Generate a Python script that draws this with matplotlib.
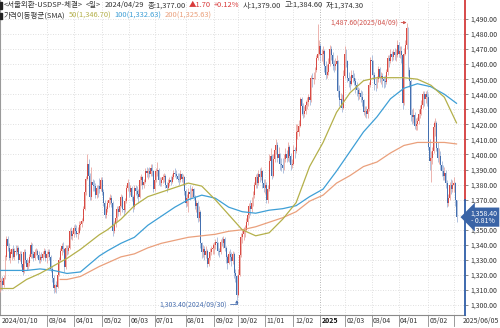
import numpy as np
import pandas as pd
import matplotlib
matplotlib.use('agg')
import matplotlib.pyplot as plt
from matplotlib import transforms
from matplotlib.patches import Rectangle

plt.rcParams['font.family'] = ['Noto Sans CJK KR', 'DejaVu Sans']

# Seoul FX market trading calendar
holidays = ['2024-02-09', '2024-02-12', '2024-03-01', '2024-04-10', '2024-05-01', '2024-05-06',
            '2024-05-15', '2024-06-06', '2024-08-15', '2024-09-16', '2024-09-17', '2024-09-18',
            '2024-10-01', '2024-10-03', '2024-10-09', '2024-12-25', '2024-12-31', '2025-01-01',
            '2025-01-27', '2025-01-28', '2025-01-29', '2025-01-30', '2025-03-03', '2025-05-01',
            '2025-05-05', '2025-05-06', '2025-06-03']
dates = pd.bdate_range('2024-01-10', '2025-06-05', freq='C', holidays=holidays)

# daily USD/KRW candles, one line per month
opens = [
    1310, 1315, 1316, 1313, 1318, 1332, 1344, 1338, 1331, 1334, 1337, 1332, 1336, 1335, 1338, 1330,
    1334, 1327, 1322, 1335, 1330, 1325, 1328, 1332, 1340, 1334, 1331, 1335, 1336, 1333, 1330, 1332, 1331, 1334, 1336,
    1331, 1334, 1335, 1332, 1324, 1318, 1311, 1313, 1312, 1320, 1330, 1336, 1339, 1337, 1325, 1338, 1336, 1338, 1349, 1346,
    1347, 1351, 1349, 1347, 1348, 1353, 1354, 1356, 1364, 1375, 1384, 1394, 1386, 1372, 1382, 1380, 1379, 1373, 1378, 1379, 1377,
    1383, 1375, 1368, 1360, 1364, 1368, 1370, 1371, 1368, 1349, 1354, 1358, 1364, 1362, 1366, 1372, 1364, 1363, 1369, 1378,
    1381, 1375, 1378, 1372, 1365, 1378, 1376, 1374, 1372, 1383, 1385, 1380, 1382, 1389, 1388, 1389, 1387, 1391, 1389,
    1377, 1383, 1389, 1390, 1383, 1381, 1383, 1385, 1386, 1380, 1378, 1381, 1383, 1382, 1385, 1388, 1387, 1386, 1384, 1383, 1387, 1384, 1385,
    1376, 1368, 1371, 1375, 1374, 1376, 1377, 1372, 1366, 1368, 1358, 1362, 1341, 1335, 1337, 1333, 1336, 1327, 1331, 1335, 1337,
    1338, 1340, 1342, 1341, 1336, 1335, 1342, 1341, 1344, 1338, 1332, 1328, 1334, 1332, 1329, 1334, 1321, 1319,
    1307, 1320, 1333, 1345, 1347, 1349, 1350, 1355, 1360, 1366, 1364, 1368, 1373, 1380, 1385, 1381, 1387, 1385, 1389, 1381,
    1378, 1380, 1370, 1377, 1396, 1399, 1386, 1397, 1403, 1406, 1398, 1400, 1394, 1393, 1391, 1397, 1400, 1398, 1405, 1399, 1393,
    1394, 1403, 1402, 1415, 1415, 1419, 1437, 1432, 1427, 1429, 1433, 1435, 1438, 1436, 1451, 1450, 1451, 1456, 1464, 1467,
    1472, 1466, 1467, 1469, 1459, 1453, 1455, 1460, 1470, 1466, 1460, 1459, 1460, 1462, 1442, 1436, 1437, 1431,
    1452, 1467, 1462, 1451, 1449, 1447, 1453, 1451, 1449, 1446, 1443, 1440, 1441, 1438, 1436, 1428, 1429, 1427, 1430, 1446,
    1463, 1462, 1453, 1447, 1446, 1450, 1457, 1451, 1452, 1450, 1449, 1448, 1455, 1464, 1462, 1467, 1465, 1468, 1466, 1466,
    1473, 1467, 1469, 1466, 1434, 1467, 1473, 1484, 1456, 1449, 1426, 1425, 1426, 1419, 1420, 1422, 1427, 1430, 1433, 1440, 1437, 1440,
    1438, 1405, 1396, 1398, 1402, 1418, 1421, 1404, 1398, 1399, 1393, 1389, 1386, 1388, 1381, 1368, 1371, 1380, 1377,
    1380, 1381, 1369.5,
]
highs = [
    1318, 1318, 1319, 1320, 1333, 1346, 1346, 1341, 1337, 1338, 1340, 1338, 1340, 1340, 1339, 1336,
    1336, 1329, 1337, 1337, 1331, 1330, 1334, 1342, 1341, 1336, 1337, 1338, 1337, 1336, 1334, 1335, 1336, 1338, 1337,
    1336, 1337, 1337, 1333, 1326, 1320, 1314, 1316, 1322, 1332, 1338, 1341, 1342, 1338, 1340, 1340, 1340, 1351, 1352, 1350,
    1353, 1354, 1353, 1352, 1356, 1356, 1358, 1366, 1376, 1386, 1400, 1397, 1388, 1392, 1384, 1383, 1381, 1380, 1380, 1384.6, 1385,
    1385, 1377, 1370, 1366, 1370, 1372, 1374, 1373, 1369, 1356, 1360, 1366, 1366, 1368, 1374, 1373, 1367, 1371, 1380, 1384,
    1382, 1380, 1379, 1373, 1380, 1380, 1379, 1377, 1386, 1387, 1386, 1384, 1391, 1392, 1391, 1392, 1394, 1394, 1390,
    1386, 1391, 1395, 1391, 1385, 1385, 1387, 1388, 1387, 1382, 1384, 1385, 1386, 1387, 1390, 1391, 1390, 1388, 1388, 1390, 1388, 1387, 1386,
    1377, 1374, 1378, 1380, 1378, 1379, 1378, 1373, 1370, 1369, 1366, 1363, 1342, 1340, 1339, 1339, 1337, 1333, 1338, 1339, 1341,
    1342, 1344, 1345, 1342, 1338, 1344, 1345, 1346, 1345, 1339, 1333, 1336, 1337, 1335, 1336, 1335, 1324, 1320,
    1324, 1336, 1348, 1350, 1352, 1353, 1358, 1362, 1368, 1370, 1372, 1376, 1382, 1387, 1388, 1390, 1391, 1392, 1390, 1384,
    1384, 1382, 1380, 1400, 1404, 1400, 1400, 1406, 1410, 1408, 1405, 1401, 1398, 1398, 1400, 1404, 1403, 1408, 1406, 1401, 1397,
    1406, 1405, 1420, 1420, 1423, 1438, 1438, 1434, 1432, 1436, 1438, 1440, 1440, 1453, 1454, 1455, 1458, 1466, 1486.7, 1476,
    1474, 1470, 1472, 1470, 1462, 1460, 1464, 1473, 1472, 1468, 1463, 1464, 1466, 1463, 1446, 1441, 1440, 1456,
    1472, 1470, 1463, 1455, 1452, 1456, 1456, 1454, 1451, 1448, 1445, 1444, 1443, 1442, 1437, 1432, 1432, 1432, 1448, 1465,
    1466, 1463, 1455, 1451, 1452, 1459, 1458, 1455, 1454, 1452, 1453, 1457, 1466, 1466, 1470, 1469, 1470, 1471, 1470, 1476,
    1475, 1472, 1472, 1467, 1471, 1476, 1487.6, 1485, 1458, 1450, 1430, 1431, 1428, 1424, 1425, 1430, 1433, 1436, 1442, 1442, 1442, 1443,
    1441, 1410, 1402, 1405, 1422, 1424, 1422, 1408, 1404, 1402, 1396, 1393, 1392, 1390, 1383, 1374, 1382, 1384, 1383,
    1385, 1382, 1370,
]
lows = [
    1309, 1310, 1310, 1312, 1317, 1330, 1336, 1330, 1328, 1330, 1331, 1330, 1333, 1334, 1328, 1329,
    1325, 1320, 1321, 1328, 1323, 1324, 1326, 1331, 1331, 1329, 1330, 1333, 1331, 1328, 1328, 1329, 1330, 1332, 1329,
    1328, 1332, 1330, 1322, 1315, 1308, 1309, 1308, 1311, 1319, 1329, 1333, 1335, 1322, 1324, 1333, 1334, 1337, 1344, 1343,
    1345, 1347, 1345, 1344, 1347, 1350, 1352, 1355, 1363, 1373, 1383, 1383, 1370, 1370, 1376, 1376, 1371, 1371, 1372, 1374.3, 1376,
    1373, 1366, 1358, 1358, 1362, 1365, 1367, 1365, 1346, 1348, 1352, 1356, 1359, 1360, 1365, 1362, 1360, 1362, 1368, 1376,
    1372, 1373, 1369, 1362, 1364, 1373, 1371, 1368, 1371, 1380, 1377, 1378, 1381, 1385, 1384, 1385, 1386, 1386, 1375,
    1376, 1382, 1386, 1380, 1379, 1379, 1381, 1382, 1378, 1375, 1377, 1379, 1380, 1381, 1384, 1385, 1384, 1382, 1380, 1382, 1382, 1380, 1373,
    1365, 1366, 1362, 1370, 1371, 1372, 1370, 1364, 1362, 1355, 1356, 1338, 1331, 1332, 1330, 1331, 1325, 1326, 1330, 1333, 1334,
    1334, 1337, 1338, 1333, 1332, 1334, 1339, 1338, 1336, 1328, 1324, 1327, 1329, 1326, 1327, 1318, 1315, 1303.4,
    1306, 1319, 1332, 1341, 1343, 1345, 1349, 1353, 1358, 1360, 1362, 1366, 1371, 1378, 1378, 1380, 1382, 1383, 1378, 1375,
    1374, 1368, 1368, 1376, 1393, 1384, 1385, 1395, 1400, 1395, 1396, 1390, 1389, 1388, 1390, 1395, 1395, 1396, 1395, 1390, 1391,
    1393, 1398, 1401, 1410, 1412, 1418, 1426, 1424, 1425, 1427, 1430, 1432, 1433, 1435, 1445, 1447, 1450, 1455, 1463, 1466,
    1462, 1462, 1460, 1455, 1450, 1451, 1453, 1459, 1463, 1456, 1455, 1456, 1456, 1438, 1432, 1432, 1428, 1430,
    1451, 1458, 1448, 1445, 1443, 1446, 1448, 1446, 1441, 1439, 1436, 1437, 1435, 1432, 1426, 1425, 1424, 1424, 1429, 1445,
    1456, 1450, 1443, 1442, 1444, 1448, 1448, 1447, 1445, 1444, 1445, 1447, 1453, 1458, 1461, 1462, 1463, 1463, 1462, 1465,
    1465, 1464, 1461, 1430, 1433, 1466, 1470, 1452, 1445, 1422, 1420, 1421, 1417, 1416, 1416, 1420, 1424, 1426, 1431, 1432, 1434, 1432,
    1403, 1390, 1382, 1394, 1401, 1412, 1402, 1395, 1394, 1390, 1386, 1383, 1383, 1378, 1365, 1366, 1370, 1374, 1375,
    1375, 1366, 1355,
]
closes = [
    1315, 1316, 1313, 1318, 1331, 1344, 1339, 1331, 1335, 1337, 1332, 1336, 1335, 1338, 1330, 1334,
    1327, 1322, 1335, 1330, 1325, 1328, 1332, 1340, 1334, 1331, 1335, 1336, 1333, 1330, 1332, 1331, 1334, 1336, 1331,
    1334, 1335, 1332, 1324, 1318, 1311, 1313, 1312, 1320, 1330, 1336, 1339, 1337, 1325, 1338, 1336, 1338, 1349, 1346, 1347,
    1351, 1349, 1347, 1348, 1353, 1354, 1356, 1364, 1375, 1384, 1394, 1386, 1372, 1382, 1380, 1379, 1373, 1378, 1375.3, 1377, 1383,
    1375, 1368, 1360, 1364, 1368, 1370, 1371, 1368, 1349, 1354, 1358, 1364, 1362, 1366, 1372, 1364, 1363, 1369, 1378, 1381,
    1375, 1378, 1372, 1365, 1378, 1376, 1374, 1372, 1383, 1385, 1380, 1382, 1389, 1388, 1389, 1387, 1391, 1389, 1377,
    1383, 1389, 1390, 1383, 1381, 1383, 1385, 1386, 1380, 1378, 1381, 1383, 1382, 1385, 1388, 1387, 1386, 1384, 1383, 1387, 1384, 1385, 1376,
    1368, 1371, 1375, 1374, 1376, 1377, 1372, 1366, 1368, 1358, 1362, 1341, 1335, 1337, 1333, 1336, 1327, 1331, 1335, 1337, 1338,
    1340, 1342, 1341, 1336, 1335, 1342, 1341, 1344, 1338, 1332, 1328, 1334, 1332, 1329, 1334, 1321, 1319, 1307,
    1320, 1333, 1345, 1347, 1349, 1350, 1355, 1360, 1366, 1364, 1368, 1373, 1380, 1385, 1381, 1387, 1385, 1389, 1381, 1378,
    1380, 1370, 1377, 1396, 1399, 1386, 1397, 1403, 1406, 1398, 1400, 1394, 1393, 1391, 1397, 1400, 1398, 1405, 1399, 1393, 1394,
    1403, 1402, 1415, 1415, 1419, 1437, 1432, 1427, 1429, 1433, 1435, 1438, 1436, 1451, 1450, 1451, 1456, 1464, 1467, 1472,
    1466, 1467, 1469, 1459, 1453, 1455, 1460, 1470, 1466, 1460, 1459, 1460, 1462, 1442, 1436, 1437, 1431, 1452,
    1467, 1462, 1451, 1449, 1447, 1453, 1451, 1449, 1446, 1443, 1440, 1441, 1438, 1436, 1428, 1429, 1427, 1430, 1446, 1463,
    1462, 1453, 1447, 1446, 1450, 1457, 1451, 1452, 1450, 1449, 1448, 1455, 1464, 1462, 1467, 1465, 1468, 1466, 1466, 1473,
    1467, 1469, 1466, 1434, 1467, 1473, 1484, 1456, 1449, 1426, 1425, 1426, 1419, 1420, 1422, 1427, 1430, 1433, 1440, 1437, 1440, 1438,
    1405, 1396, 1398, 1402, 1418, 1421, 1404, 1398, 1399, 1393, 1389, 1386, 1388, 1381, 1368, 1371, 1380, 1377, 1380,
    1381, 1369.5, 1358.4,
]

# simple moving averages, sampled at trading-day positions
ma_pos = [0, 10, 20, 30, 40, 50, 60, 74, 80, 90, 100, 110, 120, 130, 140, 150, 160, 170, 180,
          190, 200, 210, 220, 230, 240, 250, 260, 270, 280, 290, 300, 310, 320, 330, 339]
sma50 = [1311, 1311, 1317, 1321, 1326, 1331, 1337, 1346.70, 1350, 1357, 1366, 1372, 1375, 1378, 1381,
         1379, 1370, 1360, 1350, 1346, 1348, 1357, 1368, 1392, 1408, 1428, 1441, 1449, 1451, 1451,
         1451, 1450, 1446, 1438, 1421]
sma100 = [1323, 1323, 1323, 1324, 1323, 1321, 1322, 1332.63, 1336, 1341, 1345, 1353, 1359, 1365, 1370,
          1373, 1371, 1365, 1362, 1361, 1363, 1364, 1366, 1372, 1377, 1389, 1402, 1415, 1425, 1437,
          1444, 1447, 1445, 1440, 1434]
ma200_pos = [45, 50, 60, 74, 80, 90, 100, 110, 120, 130, 140, 150, 160, 170, 180, 190, 200, 210,
             220, 230, 240, 250, 260, 270, 280, 290, 300, 310, 320, 330, 339]
sma200 = [1317, 1317, 1319, 1325.63, 1328, 1332, 1334, 1338, 1341, 1343, 1345, 1346, 1347, 1349,
          1350, 1352, 1355, 1358, 1362, 1369, 1373, 1381, 1386, 1392, 1395, 1401, 1406, 1408, 1408,
          1408, 1407]

UP, DOWN = '#d84a44', '#4470b0'
UP_WICK, DOWN_WICK = '#e8a09a', '#9cb2d6'
C50, C100, C200 = '#b4b04a', '#3e9fd6', '#eaa07c'
TXT = '#333333'

o = np.array(opens, float)
h = np.array(highs, float)
l = np.array(lows, float)
c = np.array(closes, float)
n = len(dates)
if not (len(o) == len(h) == len(l) == len(c) == n):
    raise ValueError('length mismatch %d %d %d %d %d' % (n, len(o), len(h), len(l), len(c)))
idx = np.arange(n)

W, H = 500, 328
fig = plt.figure(figsize=(W / 100, H / 100), dpi=100)
ax = fig.add_axes([0, 13 / H, 465 / W, 315 / H])
ybot, ytop = 1293.4, 1502.6
ax.set_ylim(ybot, ytop)
ax.set_xlim(0.3, 345.3)

# price box sits over the nearest grid label, so that label is left blank
yt = np.arange(1300, 1491, 10)
ax.set_yticks(yt)
ax.set_yticklabels(['' if abs(v - c[-1]) < 5 else '{:,.2f}'.format(v) for v in yt])
ax.yaxis.tick_right()
ax.tick_params(axis='y', length=2.5, width=0.6, pad=1.2, labelsize=5, colors='#777777', labelcolor=TXT)
ax.set_xticks([])
ax.grid(axis='y', color='#d6d6d6', lw=0.6, ls=(0, (1, 2)))
for s in ['top', 'right']:
    ax.spines[s].set_visible(False)
ax.spines['left'].set_color('#9a9a9a')
ax.spines['bottom'].set_color('#8a8a8a')
ax.spines['left'].set_linewidth(0.8)
ax.spines['bottom'].set_linewidth(0.8)

# month ticks
months = dates.to_period('M')
starts = list(np.flatnonzero(months[1:] != months[:-1]) + 1)
starts = [p for p in starts if not (dates[p].year == 2024 and dates[p].month == 2)]
xtrans = transforms.blended_transform_factory(ax.transData, ax.transAxes)
lab_trans = transforms.offset_copy(xtrans, fig=fig, x=1.5, units='dots')
ax.text(0.3, -0.019, dates[0].strftime('%Y/%m/%d'), transform=lab_trans, fontsize=5,
        color=TXT, ha='left', va='center', clip_on=False)
for p in starts:
    d = dates[p]
    grid_col = '#9c9c9c' if d.month == 1 else '#d6d6d6'
    ax.axvline(p, color=grid_col, lw=0.6, ls=(0, (1, 2)), zorder=0)
    ax.plot([p, p], [0, -0.036], transform=xtrans, color='#8a8a8a', lw=0.6, clip_on=False)
    if p == starts[-1]:
        continue
    if d.month == 1:
        ax.text(p, -0.019, str(d.year), transform=lab_trans, fontsize=5, fontweight='bold',
                color='#111111', ha='left', va='center', clip_on=False)
    else:
        ax.text(p, -0.019, d.strftime('%m/%d'), transform=lab_trans, fontsize=5,
                color=TXT, ha='left', va='center', clip_on=False)

# candles
up = c >= o
ax.vlines(idx, l, h, colors=np.where(up, UP_WICK, DOWN_WICK), lw=0.55, zorder=3)
ax.bar(idx, np.maximum(np.abs(c - o), 0.4), bottom=np.minimum(o, c), width=0.72,
       color=np.where(up, UP, DOWN), linewidth=0, zorder=4)

# moving averages
ax.plot(ma200_pos, sma200, color=C200, lw=0.9, zorder=5)
ax.plot(ma_pos, sma100, color=C100, lw=0.9, zorder=5)
ax.plot(ma_pos, sma50, color=C50, lw=0.9, zorder=5)

# period high / low markers
ih, il = int(np.argmax(h)), int(np.argmin(l))
ax.annotate('{:,.2f}({})'.format(h[ih], dates[ih].strftime('%Y/%m/%d')), xy=(ih, h[ih]),
            xytext=(-6, 0), textcoords='offset points', ha='right', va='center',
            fontsize=5, color='#d0504a', zorder=6,
            arrowprops=dict(arrowstyle='-|>', color='#d0504a', lw=0.6, mutation_scale=4,
                            shrinkA=0, shrinkB=0))
ax.annotate('{:,.2f}({})'.format(l[il], dates[il].strftime('%Y/%m/%d')), xy=(il, l[il]),
            xytext=(-7, -3), textcoords='offset points', ha='right', va='center',
            fontsize=5, color='#4a70b0', zorder=6,
            arrowprops=dict(arrowstyle='-|>', color='#4a70b0', lw=0.6, mutation_scale=4,
                            shrinkA=0, shrinkB=0,
                            connectionstyle='angle,angleA=0,angleB=90,rad=0'))

# right edge: red above previous close, blue below
ytrans = transforms.blended_transform_factory(ax.transAxes, ax.transData)
prev = c[-2]
ax.plot([1, 1], [prev, ytop], transform=ytrans, color='#d43c3c', lw=1.3, clip_on=False, zorder=6)
ax.plot([1, 1], [ybot, prev], transform=ytrans, color='#2f5ea8', lw=1.3, clip_on=False, zorder=6)

pct = (c[-1] / prev - 1) * 100
sign = '-' if pct < 0 else '+'
ax.annotate('{:,.2f}\n{} {:.2f}%'.format(c[-1], sign, abs(pct)), xy=(1, c[-1]), xycoords=ytrans,
            xytext=(4, 0), textcoords='offset points', ha='left', va='center', fontsize=5,
            color='white', linespacing=0.95, zorder=7,
            bbox=dict(boxstyle='larrow,pad=0.25', fc='#3a64a6', ec='none'))

# header lines in pixel coordinates
ov = fig.add_axes([0, 0, 1, 1])
ov.set_xlim(0, W)
ov.set_ylim(H, 0)
ov.axis('off')
ov.patch.set_alpha(0)
ov.text(499, 321.5, dates[-1].strftime('%Y/%m/%d'), fontsize=5, color=TXT, ha='right', va='center')

rend = fig.canvas.get_renderer()


def put_runs(x, y, runs, size, gap=3.2):
    for s, col in runs:
        t = ov.text(x, y, s, color=col, fontsize=size, ha='left', va='center')
        x += t.get_window_extent(rend).width + gap


k = dates.get_loc(pd.Timestamp('2024-04-29'))
chg = c[k] - c[k - 1]
m = ma_pos.index(k)
m2 = ma200_pos.index(k)
ov.add_patch(Rectangle((0.3, 2.0), 1.7, 6.5, color='#222222'))
ov.add_patch(Rectangle((0.3, 12.6), 1.7, 6.5, color='#222222'))
put_runs(4, 5.2, [
    ('<서울외환-USDSP-체결>', TXT), ('<일>', TXT), (dates[k].strftime('%Y/%m/%d'), TXT),
    ('종:{:,.2f}'.format(c[k]), TXT), ('▲{:.2f}'.format(chg), '#d83a3a'),
    ('+{:.2f}%'.format(chg / c[k - 1] * 100), '#d83a3a'),
    ('시:{:,.2f}'.format(o[k]), TXT), ('고:{:,.2f}'.format(h[k]), TXT), ('저:{:,.2f}'.format(l[k]), TXT),
], 5.4)
put_runs(4, 15.8, [
    ('가격이동평균(SMA)', TXT), ('50({:,.2f})'.format(sma50[m]), C50),
    ('100({:,.2f})'.format(sma100[m]), C100), ('200({:,.2f})'.format(sma200[m2]), C200),
], 5.4)

fig.savefig('out.png', dpi=100)
